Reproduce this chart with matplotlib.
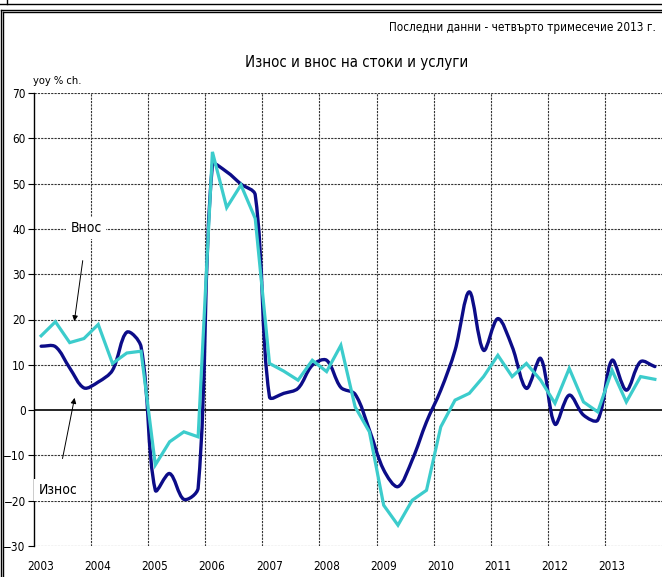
import numpy as np
import matplotlib
matplotlib.use("Agg")
import matplotlib.pyplot as plt
from matplotlib.path import Path
from matplotlib.patches import PathPatch
from matplotlib.lines import Line2D

# ── данни (годишно изменение, %) ──
years = list(range(2003, 2014))
quarters = [f"{y} Q{q}" for y in years for q in range(1, 5)]

iznos = [14.1, 14.0, 9.3, 4.9, 6.2, 8.8, 17.2, 14.0,
         -17.7, -14.0, -19.7, -17.2, 54.1, 52.6, 49.9, 47.5,
         2.9, 3.7, 4.8, 9.9, 11.0, 5.0, 3.5, -4.4,
         -13.2, -16.9, -11.0, -2.6, 4.4, 13.2, 26.1, 13.2,
         20.2, 14.0, 4.8, 11.4, -3.1, 3.3, -1.1, -2.2,
         11.0, 4.4, 10.7, 9.6]
vnos = [16.4, 19.5, 14.9, 15.8, 18.9, 10.3, 12.6, 13.0,
        -12.1, -7.0, -4.8, -5.9, 57.0, 44.7, 49.7, 42.3,
        10.3, 8.6, 6.6, 11.0, 8.5, 14.3, 0.7, -4.8,
        -21.0, -25.4, -19.9, -17.7, -3.7, 2.2, 3.7, 7.4,
        12.1, 7.4, 10.3, 6.6, 1.5, 9.2, 1.8, -0.4,
        8.8, 1.8, 7.4, 6.8]

title = "Износ и внос на стоки и услуги"
subtitle = "Последни данни - четвърто тримесечие 2013 г."
ylabel = "yoy % ch."

NAVY = "#0c0c88"
CYAN = "#3ccccc"

plt.rcParams['font.family'] = ['DejaVu Sans']
plt.rcParams['font.stretch'] = 'condensed'

W, H = 662, 577
fig = plt.figure(figsize=(W / 100, H / 100), dpi=100)
ax = fig.add_axes([34 / W, 31 / H, (W - 34) / W, (546 - 93) / H])

x = np.array([2003 + (i + 0.5) / 4 for i in range(len(quarters))])

# пиксели на единица по осите (за гладката крива)
SX, SY = 57.1, 4.53


def smooth_path(xs, ys):
    # гладка крива като в Excel (Безие, тангенти според дължината на отсечките)
    pts = np.column_stack([xs, ys])
    n = len(pts)
    scale = np.array([SX, SY])

    def dist(a, b):
        return np.hypot(*((a - b) * scale))

    verts = [pts[0]]
    codes = [Path.MOVETO]
    for i in range(n - 1):
        p0 = pts[i - 1] if i > 0 else pts[i]
        p1 = pts[i]
        p2 = pts[i + 1]
        p3 = pts[i + 2] if i + 2 < n else pts[i + 1]
        d01, d12, d23 = dist(p0, p1), dist(p1, p2), dist(p2, p3)
        w1 = d12 / (d01 + d12) if d01 + d12 > 0 else 0.5
        w2 = d12 / (d12 + d23) if d12 + d23 > 0 else 0.5
        c1 = p1 + (p2 - p0) * w1 / 3
        c2 = p2 - (p3 - p1) * w2 / 3
        verts += [c1, c2, p2]
        codes += [Path.CURVE4] * 3
    return Path(verts, codes)


ax.add_patch(PathPatch(smooth_path(x, iznos), fill=False, edgecolor=NAVY,
                       lw=2.4, capstyle='round', joinstyle='round', zorder=3))
ax.plot(x, vnos, color=CYAN, lw=2.3, solid_joinstyle='miter', zorder=4)

ax.set_xlim(2003, 2014)
ax.set_ylim(-30, 70)
ax.set_yticks(range(-30, 71, 10))
ax.set_xticks(years)
ax.set_xticklabels([])
ax.tick_params(axis='x', length=0)
ax.tick_params(axis='y', direction='out', length=4, width=0.8, labelsize=8.5, pad=2)
for yv in range(-30, 71, 10):
    if yv == 0:
        continue
    ax.axhline(yv, color='#333333', lw=0.8, ls=(0, (2, 1)), zorder=1)
for yr in years[1:]:
    ax.axvline(yr, color='#333333', lw=0.8, ls=(0, (2, 1)), zorder=1)
ax.axhline(0, color='black', lw=1.2, zorder=2)
for s in ['top', 'right', 'bottom']:
    ax.spines[s].set_visible(False)
ax.spines['left'].set_linewidth(1.0)

# етикети на годините под оста
for yr in years:
    ax.text(yr + 0.12, -34.6, str(yr), ha='center', va='center', fontsize=8.5,
            clip_on=False)

# надписи и стрелки
ax.text(2003.91, 40.2, "Внос", ha='center', va='center', fontsize=10,
        bbox=dict(facecolor='white', edgecolor='none', pad=3), zorder=5)
ax.annotate("", xy=(2003.70, 19.0), xytext=(2003.86, 33.6),
            arrowprops=dict(arrowstyle='-|>', color='black', lw=0.7,
                            mutation_scale=8), zorder=5)
ax.text(2003.42, -17.7, "Износ", ha='center', va='center', fontsize=10,
        bbox=dict(facecolor='white', edgecolor='none', pad=3), zorder=5)
ax.annotate("", xy=(2003.72, 3.3), xytext=(2003.49, -11.3),
            arrowprops=dict(arrowstyle='-|>', color='black', lw=0.7,
                            mutation_scale=8), zorder=5)

fig.text(357 / W, 1 - 62 / H, title, ha='center', va='center', fontsize=10.8)
fig.text(656 / W, 1 - 28 / H, subtitle, ha='right', va='center', fontsize=8.4)
fig.text(33 / W, 1 - 81 / H, ylabel, ha='left', va='center', fontsize=8)

# рамка
def fline(x0, y0, x1, y1, lw=1.0):
    fig.add_artist(Line2D([x0 / W, x1 / W], [1 - y0 / H, 1 - y1 / H],
                          color='black', lw=lw, transform=fig.transFigure))

fline(0, 4, W, 4)
fline(7, 0, 7, 4)
fline(1, 10, W, 10)
fline(3, 12, W, 12)
fline(1, 10, 1, H)
fline(3, 12, 3, H)

fig.savefig("out.png", dpi=100)
